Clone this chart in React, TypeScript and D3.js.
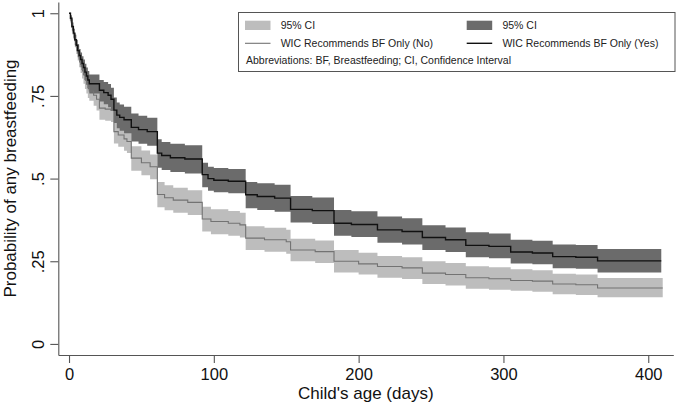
import { useRef, useEffect } from 'react';
import * as d3 from 'd3';

// WIC Recommends BF Only (No)
const noDays = [0, 1, 2, 3, 4, 5, 6, 7, 8, 9, 10, 11, 12, 13, 14, 17, 19, 21, 25, 29, 31, 34, 38, 40, 43, 50, 56, 61, 66, 72, 82, 92, 98, 110, 118, 122, 135, 150, 153, 170, 183, 200, 213, 230, 244, 260, 274, 290, 305, 320, 334, 350, 365, 410];
const noSurv = [1, .98, .958, .937, .917, .898, .88, .862, .845, .83, .815, .8, .787, .775, .765, .752, .74, .713, .71, .706, .642, .632, .62, .612, .562, .548, .536, .452, .442, .435, .428, .378, .37, .365, .36, .32, .315, .309, .284, .279, .25, .242, .234, .23, .214, .21, .2, .197, .192, .19, .181, .179, .169, .169];
const noLower = [1, .97, .945, .921, .898, .877, .857, .837, .819, .803, .787, .771, .757, .744, .735, .72, .706, .678, .675, .671, .606, .596, .584, .577, .524, .51, .498, .413, .404, .397, .39, .34, .332, .327, .322, .284, .279, .273, .25, .245, .216, .21, .2, .196, .181, .177, .167, .164, .161, .158, .15, .148, .141, .141];
const noUpper = [1, .99, .972, .953, .935, .918, .901, .885, .869, .855, .841, .827, .815, .804, .795, .783, .772, .746, .743, .739, .676, .666, .654, .646, .598, .585, .573, .49, .48, .472, .465, .415, .407, .402, .397, .356, .351, .345, .318, .313, .284, .276, .266, .262, .25, .245, .235, .232, .226, .223, .212, .21, .199, .199];

// WIC Recommends BF Only (Yes)
const yesDays = [0, 1, 2, 3, 4, 5, 6, 7, 8, 9, 10, 11, 12, 13, 14, 21, 24, 27, 29, 31, 33, 35, 38, 43, 48, 54, 61, 64, 70, 80, 92, 96, 100, 110, 122, 130, 142, 153, 168, 183, 195, 213, 230, 244, 260, 274, 290, 305, 320, 334, 350, 365, 409];
const yesSurv = [1, .985, .96, .94, .92, .903, .887, .872, .86, .848, .836, .822, .81, .798, .787, .767, .76, .752, .74, .707, .692, .685, .678, .655, .648, .642, .577, .57, .563, .559, .512, .5, .495, .492, .451, .446, .441, .407, .403, .365, .361, .345, .34, .322, .315, .298, .295, .278, .275, .264, .262, .251, .251];
const yesLower = [1, .975, .948, .926, .904, .885, .867, .851, .837, .824, .811, .796, .783, .77, .757, .733, .725, .716, .704, .668, .652, .645, .637, .612, .605, .599, .533, .526, .52, .515, .474, .463, .459, .456, .41, .405, .4, .367, .363, .327, .323, .306, .301, .284, .278, .262, .259, .243, .241, .229, .227, .216, .216];
const yesUpper = [1, .994, .972, .953, .935, .92, .906, .892, .881, .87, .86, .847, .836, .825, .815, .798, .792, .786, .775, .745, .73, .724, .717, .697, .69, .684, .619, .611, .605, .601, .548, .536, .532, .529, .49, .486, .481, .447, .443, .405, .401, .385, .38, .359, .352, .338, .334, .315, .312, .301, .299, .287, .287];

const xTicks = [0, 100, 200, 300, 400];
const yTicks = [0, 0.25, 0.5, 0.75, 1];
const yTickLabels = ['0', '.25', '.5', '.75', '1'];

const font = '"Liberation Sans", Arial, Helvetica, sans-serif';
const lightCI = '#bdbdbd';
const darkCI = '#6b6b6b';
const noColor = '#737373';
const yesColor = '#111111';
const axisColor = '#555555';

type Row = { t: number; s: number; lo: number; hi: number };
const rows = (days: number[], s: number[], lo: number[], hi: number[]): Row[] =>
  days.map((t, i) => ({ t, s: s[i], lo: lo[i], hi: hi[i] }));

export default function App() {
  const svgRef = useRef<SVGSVGElement>(null);

  useEffect(() => {
    if (!svgRef.current) return;
    const svg = d3.select(svgRef.current);
    svg.selectAll('*').remove();

    const x = d3.scaleLinear().domain([-7.4, 417.3]).range([58.3, 673.3]);
    const y = d3.scaleLinear().domain([-0.0335, 1.034]).range([355, 2]);

    const groups = [
      { data: rows(noDays, noSurv, noLower, noUpper), ci: lightCI, line: noColor, lw: 1.1 },
      { data: rows(yesDays, yesSurv, yesLower, yesUpper), ci: darkCI, line: yesColor, lw: 1.4 },
    ];

    const area = d3
      .area<Row>()
      .curve(d3.curveStepAfter)
      .x((d) => x(d.t))
      .y0((d) => y(d.lo))
      .y1((d) => y(d.hi));
    const line = d3
      .line<Row>()
      .curve(d3.curveStepAfter)
      .x((d) => x(d.t))
      .y((d) => y(d.s));

    // CI bands first, then the survival lines
    for (const g of groups) {
      svg.append('path').datum(g.data).attr('fill', g.ci).attr('d', area);
    }
    for (const g of groups) {
      svg
        .append('path')
        .datum(g.data)
        .attr('fill', 'none')
        .attr('stroke', g.line)
        .attr('stroke-width', g.lw)
        .attr('d', line);
    }

    // axes
    const xAxis = svg
      .append('g')
      .attr('transform', `translate(0,355)`)
      .call(d3.axisBottom(x).tickValues(xTicks).tickSize(8).tickSizeOuter(0).tickPadding(5));
    xAxis.selectAll('text').attr('font-size', 16.5).attr('font-family', font).attr('fill', '#111');

    const yAxis = svg
      .append('g')
      .attr('transform', `translate(58.3,0)`)
      .call(
        d3
          .axisLeft(y)
          .tickValues(yTicks)
          .tickSize(8)
          .tickSizeOuter(0)
          .tickFormat((_, i) => yTickLabels[i]),
      );
    yAxis
      .selectAll('text')
      .attr('x', 0)
      .attr('y', 0)
      .attr('dy', 0)
      .attr('transform', 'translate(-14.5,0) rotate(-90)')
      .attr('text-anchor', 'middle')
      .attr('font-size', 16.5)
      .attr('font-family', font)
      .attr('fill', '#111');

    for (const ax of [xAxis, yAxis]) {
      ax.select('.domain').attr('stroke', axisColor).attr('stroke-width', 1.1);
      ax.selectAll('.tick line').attr('stroke', axisColor).attr('stroke-width', 1.1);
    }

    svg
      .append('text')
      .attr('x', (x.range()[0] + x.range()[1]) / 2)
      .attr('y', 399)
      .attr('text-anchor', 'middle')
      .attr('font-family', font)
      .attr('font-size', 17)
      .attr('fill', '#111')
      .text("Child's age (days)");

    svg
      .append('text')
      .attr('transform', `translate(16,${(y.range()[0] + y.range()[1]) / 2}) rotate(-90)`)
      .attr('text-anchor', 'middle')
      .attr('font-family', font)
      .attr('font-size', 17)
      .attr('fill', '#111')
      .text('Probability of any breastfeeding');

    // legend
    const lg = svg.append('g').attr('font-family', font).attr('font-size', 10.5).attr('fill', '#222');
    lg.append('rect')
      .attr('x', 238.5)
      .attr('y', 12.5)
      .attr('width', 436.5)
      .attr('height', 59)
      .attr('fill', '#fff')
      .attr('stroke', axisColor)
      .attr('stroke-width', 1);

    const cols = [245, 466.7];
    groups.forEach((g, i) => {
      const cx = cols[i];
      lg.append('rect').attr('x', cx).attr('y', 20.7).attr('width', 25.5).attr('height', 9.3).attr('fill', g.ci);
      lg.append('text').attr('x', cx + 35.7).attr('y', 29.3).text('95% CI');
      lg.append('line')
        .attr('x1', cx)
        .attr('x2', cx + 25.5)
        .attr('y1', 43.3)
        .attr('y2', 43.3)
        .attr('stroke', g.line)
        .attr('stroke-width', g.lw);
      lg.append('text')
        .attr('x', cx + 35.7)
        .attr('y', 46.7)
        .text(`WIC Recommends BF Only (${i === 0 ? 'No' : 'Yes'})`);
    });
    lg.append('text').attr('x', 246).attr('y', 64).text('Abbreviations: BF, Breastfeeding; CI, Confidence Interval');
  }, []);

  return (
    <svg
      ref={svgRef}
      width={680}
      height={407}
      style={{ position: 'absolute', left: 0, top: 0, background: '#fff' }}
    />
  );
}
